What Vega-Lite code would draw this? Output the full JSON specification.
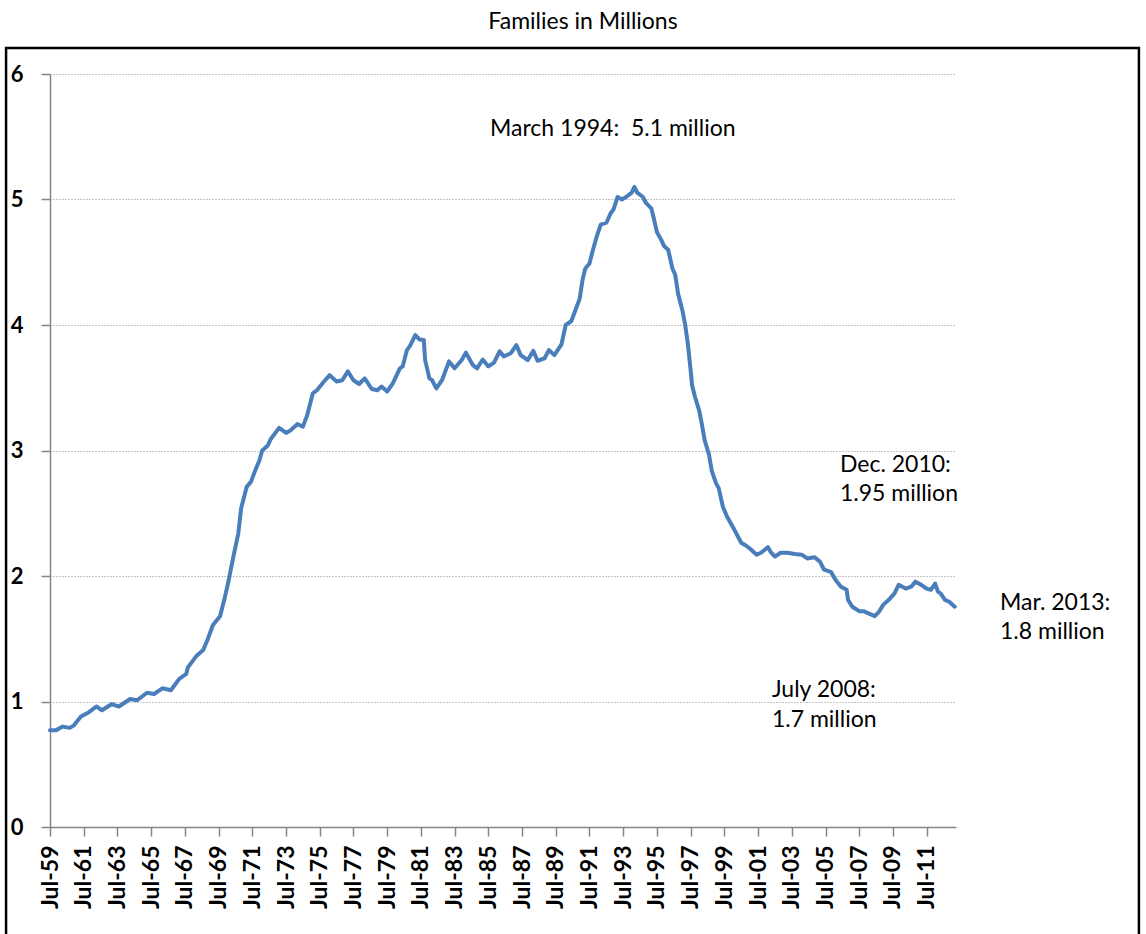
{
  "$schema": "https://vega.github.io/schema/vega-lite/v6.json",
  "width": 906,
  "height": 753,
  "autosize": {"type": "none"},
  "padding": {"left": 50, "top": 74, "right": 190, "bottom": 107},
  "background": "white",
  "config": {"view": {"stroke": null}, "font": "Lato"},
  "title": {"text": "Families in Millions", "font": "Lato", "fontSize": 23, "fontWeight": "normal", "color": "black", "anchor": "middle", "dx": 80, "offset": 13},
  "datasets": {
    "series": [
      {"d":"1959-07","v":0.77},{"d":"1959-11","v":0.77},{"d":"1960-04","v":0.80},{"d":"1960-09","v":0.79},{"d":"1960-12","v":0.81},
      {"d":"1961-05","v":0.88},{"d":"1961-10","v":0.91},{"d":"1962-04","v":0.96},{"d":"1962-08","v":0.93},{"d":"1963-03","v":0.98},
      {"d":"1963-08","v":0.96},{"d":"1964-04","v":1.02},{"d":"1964-09","v":1.01},{"d":"1965-04","v":1.07},{"d":"1965-09","v":1.06},
      {"d":"1966-03","v":1.105},{"d":"1966-09","v":1.09},{"d":"1967-03","v":1.18},{"d":"1967-08","v":1.22},{"d":"1967-09","v":1.27},
      {"d":"1968-03","v":1.36},{"d":"1968-08","v":1.41},{"d":"1968-11","v":1.49},{"d":"1969-03","v":1.61},{"d":"1969-08","v":1.68},
      {"d":"1969-11","v":1.81},{"d":"1970-02","v":1.96},{"d":"1970-04","v":2.07},{"d":"1970-06","v":2.18},{"d":"1970-09","v":2.34},
      {"d":"1970-11","v":2.54},{"d":"1971-03","v":2.71},{"d":"1971-06","v":2.75},{"d":"1971-09","v":2.84},{"d":"1971-12","v":2.92},
      {"d":"1972-02","v":3.00},{"d":"1972-06","v":3.04},{"d":"1972-08","v":3.09},{"d":"1973-02","v":3.18},{"d":"1973-07","v":3.14},
      {"d":"1973-10","v":3.16},{"d":"1974-03","v":3.21},{"d":"1974-07","v":3.19},{"d":"1974-10","v":3.28},{"d":"1975-02","v":3.455},
      {"d":"1975-05","v":3.48},{"d":"1975-10","v":3.55},{"d":"1976-02","v":3.60},{"d":"1976-07","v":3.55},{"d":"1976-11","v":3.56},
      {"d":"1977-03","v":3.63},{"d":"1977-07","v":3.56},{"d":"1977-11","v":3.53},{"d":"1978-03","v":3.575},{"d":"1978-08","v":3.49},
      {"d":"1978-12","v":3.48},{"d":"1979-03","v":3.51},{"d":"1979-07","v":3.47},{"d":"1979-11","v":3.535},{"d":"1980-04","v":3.655},
      {"d":"1980-06","v":3.67},{"d":"1980-09","v":3.80},{"d":"1980-11","v":3.83},{"d":"1981-03","v":3.92},{"d":"1981-06","v":3.885},
      {"d":"1981-09","v":3.88},{"d":"1981-10","v":3.72},{"d":"1982-01","v":3.575},{"d":"1982-03","v":3.56},{"d":"1982-06","v":3.495},
      {"d":"1982-10","v":3.56},{"d":"1983-03","v":3.71},{"d":"1983-07","v":3.655},{"d":"1983-12","v":3.72},{"d":"1984-03","v":3.78},
      {"d":"1984-08","v":3.68},{"d":"1984-11","v":3.655},{"d":"1985-03","v":3.725},{"d":"1985-07","v":3.67},{"d":"1985-11","v":3.70},
      {"d":"1986-03","v":3.79},{"d":"1986-06","v":3.75},{"d":"1986-11","v":3.775},{"d":"1987-03","v":3.84},{"d":"1987-06","v":3.76},
      {"d":"1987-11","v":3.72},{"d":"1988-03","v":3.795},{"d":"1988-06","v":3.715},{"d":"1988-11","v":3.735},{"d":"1989-02","v":3.80},
      {"d":"1989-06","v":3.76},{"d":"1989-11","v":3.845},{"d":"1990-02","v":4.00},{"d":"1990-06","v":4.03},{"d":"1990-09","v":4.12},
      {"d":"1990-12","v":4.21},{"d":"1991-02","v":4.36},{"d":"1991-04","v":4.45},{"d":"1991-07","v":4.49},{"d":"1991-09","v":4.58},
      {"d":"1991-12","v":4.70},{"d":"1992-03","v":4.80},{"d":"1992-07","v":4.815},{"d":"1992-10","v":4.89},{"d":"1992-12","v":4.92},
      {"d":"1993-03","v":5.02},{"d":"1993-06","v":5.00},{"d":"1993-09","v":5.02},{"d":"1994-01","v":5.055},{"d":"1994-03","v":5.10},
      {"d":"1994-05","v":5.055},{"d":"1994-09","v":5.02},{"d":"1994-11","v":4.975},{"d":"1995-03","v":4.93},{"d":"1995-05","v":4.84},
      {"d":"1995-07","v":4.74},{"d":"1995-10","v":4.68},{"d":"1995-12","v":4.63},{"d":"1996-03","v":4.60},{"d":"1996-06","v":4.45},
      {"d":"1996-08","v":4.40},{"d":"1996-10","v":4.25},{"d":"1997-01","v":4.12},{"d":"1997-03","v":4.01},{"d":"1997-05","v":3.85},
      {"d":"1997-07","v":3.64},{"d":"1997-08","v":3.52},{"d":"1997-10","v":3.43},{"d":"1998-01","v":3.32},{"d":"1998-03","v":3.21},
      {"d":"1998-05","v":3.08},{"d":"1998-08","v":2.97},{"d":"1998-10","v":2.84},{"d":"1999-01","v":2.74},{"d":"1999-03","v":2.70},
      {"d":"1999-06","v":2.55},{"d":"1999-09","v":2.47},{"d":"2000-02","v":2.37},{"d":"2000-07","v":2.265},{"d":"2000-10","v":2.245},
      {"d":"2001-02","v":2.21},{"d":"2001-06","v":2.17},{"d":"2001-09","v":2.185},{"d":"2002-02","v":2.23},{"d":"2002-04","v":2.19},
      {"d":"2002-07","v":2.155},{"d":"2002-11","v":2.185},{"d":"2003-04","v":2.185},{"d":"2003-09","v":2.175},{"d":"2004-02","v":2.17},
      {"d":"2004-06","v":2.14},{"d":"2004-11","v":2.15},{"d":"2005-03","v":2.115},{"d":"2005-06","v":2.05},{"d":"2005-11","v":2.03},
      {"d":"2006-02","v":1.97},{"d":"2006-06","v":1.915},{"d":"2006-10","v":1.89},{"d":"2006-11","v":1.81},{"d":"2007-02","v":1.755},
      {"d":"2007-07","v":1.72},{"d":"2007-10","v":1.72},{"d":"2008-02","v":1.70},{"d":"2008-06","v":1.68},{"d":"2008-09","v":1.715},
      {"d":"2008-12","v":1.77},{"d":"2009-04","v":1.81},{"d":"2009-08","v":1.86},{"d":"2009-11","v":1.93},{"d":"2010-04","v":1.90},
      {"d":"2010-08","v":1.915},{"d":"2010-11","v":1.955},{"d":"2011-03","v":1.93},{"d":"2011-07","v":1.90},{"d":"2011-10","v":1.89},
      {"d":"2012-01","v":1.94},{"d":"2012-03","v":1.875},{"d":"2012-05","v":1.86},{"d":"2012-08","v":1.81},{"d":"2012-11","v":1.795},
      {"d":"2013-03","v":1.755}
    ],
    "notes": [
      {"d":"1985-08-06","v":5.562,"label":"March 1994:\u00a0 5.1 million"},
      {"d":"2006-05-10","v":2.884,"label":"Dec. 2010:"},
      {"d":"2006-05-10","v":2.653,"label":"1.95 million"},
      {"d":"2002-04-27","v":1.092,"label":"July 2008:"},
      {"d":"2002-04-27","v":0.853,"label":"1.7 million"},
      {"d":"2015-11-06","v":1.785,"label":"Mar. 2013:"},
      {"d":"2015-11-06","v":1.554,"label":"1.8 million"}
    ]
  },
  "layer": [
    {
      "data": {"values": [{}]},
      "mark": {"type": "rect", "filled": false, "stroke": "black", "strokeWidth": 2.5, "clip": false},
      "encoding": {
        "x": {"datum": {"year": 1956, "month": 11, "date": 21, "utc": true}, "type": "temporal"},
        "x2": {"datum": {"year": 2024, "month": 2, "date": 2, "utc": true}},
        "y": {"datum": 6.207, "type": "quantitative"},
        "y2": {"datum": -1}
      }
    },
    {
      "data": {"name": "series"},
      "mark": {"type": "line", "color": "#4A7EBB", "strokeWidth": 4, "strokeJoin": "round", "strokeCap": "round", "clip": false},
      "encoding": {
        "x": {
          "field": "d", "type": "temporal",
          "scale": {"type": "utc", "domain": [{"year": 1959, "month": 7, "date": 1, "utc": true}, {"year": 2013, "month": 3, "date": 28, "utc": true}]},
          "axis": {
            "title": null,
            "tickCount": 60,
            "values": [
              {"year":1959,"month":7,"date":1,"utc":true},{"year":1961,"month":7,"date":1,"utc":true},{"year":1963,"month":7,"date":1,"utc":true},
              {"year":1965,"month":7,"date":1,"utc":true},{"year":1967,"month":7,"date":1,"utc":true},{"year":1969,"month":7,"date":1,"utc":true},
              {"year":1971,"month":7,"date":1,"utc":true},{"year":1973,"month":7,"date":1,"utc":true},{"year":1975,"month":7,"date":1,"utc":true},
              {"year":1977,"month":7,"date":1,"utc":true},{"year":1979,"month":7,"date":1,"utc":true},{"year":1981,"month":7,"date":1,"utc":true},
              {"year":1983,"month":7,"date":1,"utc":true},{"year":1985,"month":7,"date":1,"utc":true},{"year":1987,"month":7,"date":1,"utc":true},
              {"year":1989,"month":7,"date":1,"utc":true},{"year":1991,"month":7,"date":1,"utc":true},{"year":1993,"month":7,"date":1,"utc":true},
              {"year":1995,"month":7,"date":1,"utc":true},{"year":1997,"month":7,"date":1,"utc":true},{"year":1999,"month":7,"date":1,"utc":true},
              {"year":2001,"month":7,"date":1,"utc":true},{"year":2003,"month":7,"date":1,"utc":true},{"year":2005,"month":7,"date":1,"utc":true},
              {"year":2007,"month":7,"date":1,"utc":true},{"year":2009,"month":7,"date":1,"utc":true},{"year":2011,"month":7,"date":1,"utc":true}
            ],
            "format": "%b-%y",
            "labelAngle": -90,
            "labelFont": "Lato", "labelFontSize": 23, "labelFontWeight": "bold", "labelColor": "black",
            "labelPadding": 9, "labelOverlap": false, "labelBound": false, "labelFlush": false,
            "tickSize": 9, "tickColor": "#868686", "tickWidth": 1.5,
            "domainColor": "#868686", "domainWidth": 1.5,
            "grid": false
          }
        },
        "y": {
          "field": "v", "type": "quantitative",
          "scale": {"domain": [0, 6], "nice": false, "zero": true},
          "axis": {
            "title": null,
            "values": [0, 1, 2, 3, 4, 5, 6],
            "format": "d",
            "labelFont": "Lato", "labelFontSize": 22, "labelFontWeight": "bold", "labelColor": "black",
            "labelPadding": 18, "labelFlush": false,
            "tickSize": 9, "tickColor": "#868686", "tickWidth": 1.5,
            "domainColor": "#868686", "domainWidth": 1.5,
            "grid": true, "gridColor": "#8c8c8c", "gridDash": [1, 2], "gridWidth": 1
          }
        }
      }
    },
    {
      "data": {"name": "notes"},
      "mark": {"type": "text", "align": "left", "baseline": "middle", "font": "Lato", "fontSize": 23, "color": "black", "clip": false},
      "encoding": {
        "x": {"field": "d", "type": "temporal"},
        "y": {"field": "v", "type": "quantitative"},
        "text": {"field": "label"}
      }
    }
  ]
}
